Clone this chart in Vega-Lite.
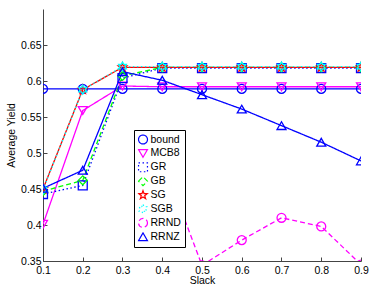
{
  "$schema": "https://vega.github.io/schema/vega-lite/v6.json",
  "autosize": "none",
  "width": 318,
  "height": 252,
  "padding": {"left": 43, "top": 9, "right": 13, "bottom": 28},
  "background": "white",
  "config": {
    "font": "Liberation Sans",
    "view": {"stroke": null},
    "axis": {
      "grid": false,
      "domainColor": "#444",
      "tickColor": "#444",
      "tickSize": -4,
      "labelFontSize": 10.5,
      "labelColor": "#000",
      "titleFontSize": 10.5,
      "titleFontWeight": "normal",
      "titleColor": "#000",
      "labelFont": "Liberation Sans",
      "titleFont": "Liberation Sans"
    }
  },
  "data": {
    "values": [
      {"slack": 0.1, "series": "bound", "yield": 0.589},
      {"slack": 0.2, "series": "bound", "yield": 0.589},
      {"slack": 0.3, "series": "bound", "yield": 0.589},
      {"slack": 0.4, "series": "bound", "yield": 0.589},
      {"slack": 0.5, "series": "bound", "yield": 0.589},
      {"slack": 0.6, "series": "bound", "yield": 0.589},
      {"slack": 0.7, "series": "bound", "yield": 0.589},
      {"slack": 0.8, "series": "bound", "yield": 0.589},
      {"slack": 0.9, "series": "bound", "yield": 0.589},
      {"slack": 0.1, "series": "MCB8", "yield": 0.401},
      {"slack": 0.2, "series": "MCB8", "yield": 0.559},
      {"slack": 0.3, "series": "MCB8", "yield": 0.593},
      {"slack": 0.4, "series": "MCB8", "yield": 0.592},
      {"slack": 0.5, "series": "MCB8", "yield": 0.592},
      {"slack": 0.6, "series": "MCB8", "yield": 0.592},
      {"slack": 0.7, "series": "MCB8", "yield": 0.592},
      {"slack": 0.8, "series": "MCB8", "yield": 0.592},
      {"slack": 0.9, "series": "MCB8", "yield": 0.592},
      {"slack": 0.1, "series": "GR", "yield": 0.443},
      {"slack": 0.2, "series": "GR", "yield": 0.455},
      {"slack": 0.3, "series": "GR", "yield": 0.604},
      {"slack": 0.4, "series": "GR", "yield": 0.618},
      {"slack": 0.5, "series": "GR", "yield": 0.618},
      {"slack": 0.6, "series": "GR", "yield": 0.618},
      {"slack": 0.7, "series": "GR", "yield": 0.618},
      {"slack": 0.8, "series": "GR", "yield": 0.618},
      {"slack": 0.9, "series": "GR", "yield": 0.618},
      {"slack": 0.1, "series": "GB", "yield": 0.447},
      {"slack": 0.2, "series": "GB", "yield": 0.462},
      {"slack": 0.3, "series": "GB", "yield": 0.607},
      {"slack": 0.4, "series": "GB", "yield": 0.619},
      {"slack": 0.5, "series": "GB", "yield": 0.619},
      {"slack": 0.6, "series": "GB", "yield": 0.619},
      {"slack": 0.7, "series": "GB", "yield": 0.619},
      {"slack": 0.8, "series": "GB", "yield": 0.619},
      {"slack": 0.9, "series": "GB", "yield": 0.619},
      {"slack": 0.1, "series": "SG", "yield": 0.45},
      {"slack": 0.2, "series": "SG", "yield": 0.588},
      {"slack": 0.3, "series": "SG", "yield": 0.619},
      {"slack": 0.4, "series": "SG", "yield": 0.619},
      {"slack": 0.5, "series": "SG", "yield": 0.619},
      {"slack": 0.6, "series": "SG", "yield": 0.619},
      {"slack": 0.7, "series": "SG", "yield": 0.619},
      {"slack": 0.8, "series": "SG", "yield": 0.619},
      {"slack": 0.9, "series": "SG", "yield": 0.619},
      {"slack": 0.1, "series": "SGB", "yield": 0.449},
      {"slack": 0.2, "series": "SGB", "yield": 0.588},
      {"slack": 0.3, "series": "SGB", "yield": 0.62},
      {"slack": 0.4, "series": "SGB", "yield": 0.62},
      {"slack": 0.5, "series": "SGB", "yield": 0.62},
      {"slack": 0.6, "series": "SGB", "yield": 0.62},
      {"slack": 0.7, "series": "SGB", "yield": 0.62},
      {"slack": 0.8, "series": "SGB", "yield": 0.62},
      {"slack": 0.9, "series": "SGB", "yield": 0.62},
      {"slack": 0.4, "series": "RRND", "yield": 0.49},
      {"slack": 0.5, "series": "RRND", "yield": 0.344},
      {"slack": 0.6, "series": "RRND", "yield": 0.379},
      {"slack": 0.7, "series": "RRND", "yield": 0.41},
      {"slack": 0.8, "series": "RRND", "yield": 0.398},
      {"slack": 0.9, "series": "RRND", "yield": 0.345},
      {"slack": 0.1, "series": "RRNZ", "yield": 0.451},
      {"slack": 0.2, "series": "RRNZ", "yield": 0.476},
      {"slack": 0.3, "series": "RRNZ", "yield": 0.613},
      {"slack": 0.4, "series": "RRNZ", "yield": 0.601},
      {"slack": 0.5, "series": "RRNZ", "yield": 0.581},
      {"slack": 0.6, "series": "RRNZ", "yield": 0.561},
      {"slack": 0.7, "series": "RRNZ", "yield": 0.538},
      {"slack": 0.8, "series": "RRNZ", "yield": 0.515},
      {"slack": 0.9, "series": "RRNZ", "yield": 0.489}
    ]
  },
  "encoding": {
    "x": {
      "field": "slack", "type": "quantitative", "title": "Slack",
      "scale": {"domain": [0.1, 0.9], "nice": false, "zero": false},
      "axis": {"values": [0.1, 0.2, 0.3, 0.4, 0.5, 0.6, 0.7, 0.8, 0.9], "format": ".1f", "labelPadding": 8, "titlePadding": 0, "labelFlush": false}
    },
    "y": {
      "field": "yield", "type": "quantitative", "title": "Average Yield",
      "scale": {"domain": [0.35, 0.7], "nice": false, "zero": false},
      "axis": {"values": [0.35, 0.4, 0.45, 0.5, 0.55, 0.6, 0.65], "format": ".2~f", "labelPadding": 6, "titlePadding": 4, "labelFlush": false}
    }
  },
  "layer": [
    {
      "mark": {"type": "line", "clip": true, "strokeWidth": 1.3},
      "encoding": {
        "color": {
          "field": "series", "type": "nominal",
          "scale": {"domain": ["bound", "MCB8", "GR", "GB", "SG", "SGB", "RRND", "RRNZ"],
                    "range": ["#0000ff", "#ff00ff", "#0000ff", "#00ff00", "#ff0000", "#00ffff", "#ff00ff", "#0000ff"]}
        },
        "strokeDash": {
          "field": "series", "type": "nominal",
          "scale": {"domain": ["bound", "MCB8", "GR", "GB", "SG", "SGB", "RRND", "RRNZ"],
                    "range": [[1, 0], [1, 0], [1.5, 2.5], [5, 3], [1, 0], [1.5, 2.5], [5, 3], [1, 0]]},
          "legend": null
        }
      }
    },
    {
      "mark": {"type": "point", "clip": true, "filled": false, "strokeWidth": 1.3, "opacity": 1},
      "encoding": {
        "color": {
          "field": "series", "type": "nominal",
          "scale": {"domain": ["bound", "MCB8", "GR", "GB", "SG", "SGB", "RRND", "RRNZ"],
                    "range": ["#0000ff", "#ff00ff", "#0000ff", "#00ff00", "#ff0000", "#00ffff", "#ff00ff", "#0000ff"]},
          "legend": {
            "orient": "none", "legendX": 91, "legendY": 121, "title": null, "direction": "vertical",
            "strokeColor": "#000", "fillColor": "#ffffff", "padding": 3.5, "cornerRadius": 0,
            "symbolSize": 484, "symbolStrokeWidth": 1.2, "clipHeight": 12, "rowPadding": 1.9,
            "labelFontSize": 10.5, "labelFont": "Liberation Sans", "labelOffset": 2, "symbolOffset": 0, "labelColor": "#000"
          }
        },
        "shape": {
          "field": "series", "type": "nominal",
          "scale": {"domain": ["bound", "MCB8", "GR", "GB", "SG", "SGB", "RRND", "RRNZ"],
                    "range": ["circle", "triangle-down", "square", "diamond",
                              "M0,-1L0.235,-0.324L0.951,-0.309L0.38,0.124L0.588,0.809L0,0.4L-0.588,0.809L-0.38,0.124L-0.951,-0.309L-0.235,-0.324Z",
                              "M0,-1L0.289,-0.5L0.866,-0.5L0.577,0L0.866,0.5L0.289,0.5L0,1L-0.289,0.5L-0.866,0.5L-0.577,0L-0.866,-0.5L-0.289,-0.5Z",
                              "circle", "triangle-up"]},
          "legend": null
        },
        "size": {
          "field": "series", "type": "nominal",
          "scale": {"domain": ["bound", "MCB8", "GR", "GB", "SG", "SGB", "RRND", "RRNZ"],
                    "range": [80, 80, 45, 75, 110, 120, 70, 85]},
          "legend": null
        }
      }
    }
  ]
}
